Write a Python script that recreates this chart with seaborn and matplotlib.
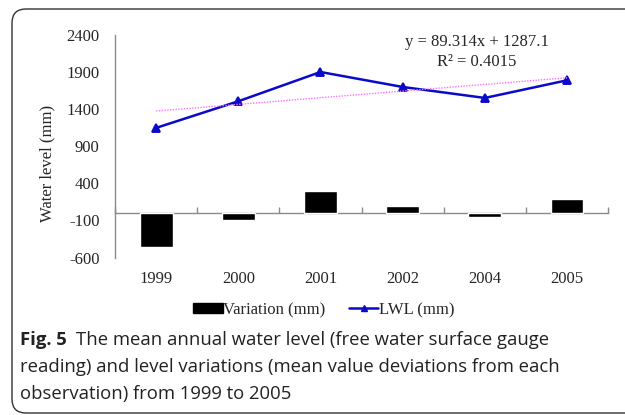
import numpy as np
import matplotlib
matplotlib.use('Agg')
import matplotlib.pyplot as plt
from matplotlib.lines import Line2D
from matplotlib.patches import Patch, FancyBboxPatch
from matplotlib.transforms import IdentityTransform
import seaborn as sns

# values
years = ['1999', '2000', '2001', '2002', '2004', '2005']
lwl = [1148, 1507, 1902, 1700, 1552, 1790]
variation = [-452, -93, 302, 100, -48, 190]
yticks = [-600, -100, 400, 900, 1400, 1900, 2400]
series_names = ['Variation (mm)', 'LWL (mm)']
equation = 'y = 89.314x + 1287.1'
r2_text = 'R² = 0.4015'
caption_bold = 'Fig. 5'
caption_lines = [
    'The mean annual water level (free water surface gauge',
    'reading) and level variations (mean value deviations from each',
    'observation) from 1999 to 2005',
]

sns.set_style('white')
plt.rcParams['font.family'] = ['Liberation Serif', 'DejaVu Serif']
plt.rcParams['axes.unicode_minus'] = False

blue = '#0a0ac8'
grey = '#8a8a8a'

fig = plt.figure(figsize=(6.25, 4.15), dpi=100)
ax = fig.add_axes([0.184, 0.3795, 0.789, 0.536])
pos = np.arange(len(years))

sns.barplot(x=pos, y=variation, native_scale=True, color='black', width=0.4,
            saturation=1, errorbar=None, ax=ax, zorder=2)
sns.regplot(x=pos, y=lwl, ci=None, scatter=False, ax=ax,
            line_kws=dict(color='#ff70ff', linestyle=(0, (1, 1)), linewidth=1, zorder=3))
sns.pointplot(x=pos, y=lwl, native_scale=True, color=blue, marker='^',
              markersize=6, linewidth=1.8, errorbar=None, ax=ax)

ax.set_xlim(-0.5, 5.5)
ax.set_ylim(-600, 2400)
ax.set_yticks(yticks)
ax.set_xticks(pos, years)
ax.set_xlabel('')
ax.tick_params(axis='x', length=0, pad=10, labelsize=12)
ax.tick_params(axis='y', direction='in', length=4, color=grey, width=1, pad=11, labelsize=12)
for s in ['top', 'right', 'bottom']:
    ax.spines[s].set_visible(False)
ax.spines['left'].set_color(grey)
ax.spines['left'].set_linewidth(1)

# category axis crossing at zero
sec = ax.secondary_xaxis(0.2)
sec.set_xticks(np.arange(-0.5, 6, 1))
sec.tick_params(direction='in', length=4, color=grey, width=1, labelbottom=False, labeltop=False)
for s in sec.spines.values():
    s.set_color(grey)
    s.set_linewidth(1)

ax.set_ylabel('Water level (mm)', fontsize=12)
ax.yaxis.set_label_coords(-0.121, 0.425)

ax.text(0.734, 0.969, equation, transform=ax.transAxes, ha='center', va='center', fontsize=12)
ax.text(0.734, 0.879, r2_text, transform=ax.transAxes, ha='center', va='center', fontsize=12)

handles = [Patch(facecolor='black', edgecolor='black'),
           Line2D([], [], color=blue, marker='^', lw=1.8, markersize=5)]
fig.legend(handles, series_names, loc='center', bbox_to_anchor=(324 / 625, 1 - 310 / 415),
           ncol=2, frameon=False, fontsize=12, handlelength=1.75, handleheight=0.6,
           handletextpad=0.05, columnspacing=1.4)

# caption
renderer = fig.canvas.get_renderer()
cap_y = [340, 367, 394]
cap_kw = dict(family='Open Sans', fontsize=13.3, va='center', color='#222222')
t = fig.text(20 / 625, 1 - cap_y[0] / 415, caption_bold, fontweight='bold', **cap_kw)
bb = t.get_window_extent(renderer)
fig.text((bb.x1 + 9) / 625, 1 - cap_y[0] / 415, caption_lines[0], **cap_kw)
for line, yy in zip(caption_lines[1:], cap_y[1:]):
    fig.text(20 / 625, 1 - yy / 415, line, **cap_kw)

border = FancyBboxPatch((12, 2), 660, 404, boxstyle='round,pad=0,rounding_size=14',
                        transform=IdentityTransform(), fill=False, edgecolor='#333333', lw=1)
fig.add_artist(border)

fig.savefig('out.png', dpi=100)
